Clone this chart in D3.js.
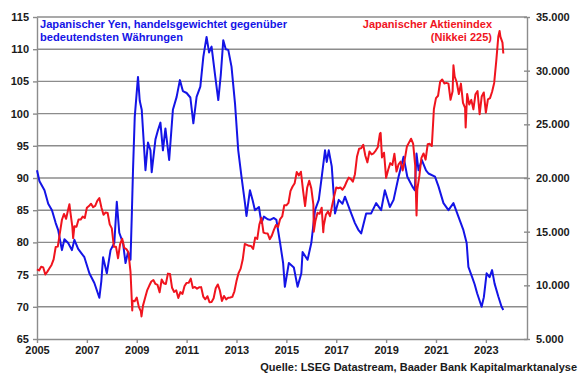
<!DOCTYPE html>
<html>
<head>
<meta charset="utf-8">
<script src="https://cdn.jsdelivr.net/npm/d3@7"></script>
<style>
  body { margin: 0; background: #fff; }
  svg { display: block; font-family: "Liberation Sans", Arial, sans-serif; }
</style>
</head>
<body>
<div id="demo"></div>
<script>

// Yen, handelsgewichtet (Datum als Dezimaljahr, Wert)
var yenDates = [2005.0, 2005.1, 2005.3, 2005.45, 2005.6, 2005.75, 2005.85, 2006.0, 2006.1, 2006.25, 2006.4, 2006.5, 2006.65, 2006.9,
  2007.1, 2007.3, 2007.5, 2007.58, 2007.65, 2007.8, 2007.95, 2008.1, 2008.2, 2008.3, 2008.45, 2008.55, 2008.65, 2008.75,
  2008.8, 2008.85, 2008.92, 2009.05, 2009.12, 2009.2, 2009.35, 2009.45, 2009.55, 2009.6, 2009.75, 2009.85, 2009.95,
  2010.05, 2010.15, 2010.3, 2010.45, 2010.6, 2010.73, 2010.85, 2011.0, 2011.15, 2011.27, 2011.4, 2011.55, 2011.67, 2011.8,
  2011.9, 2012.0, 2012.15, 2012.27, 2012.37, 2012.47, 2012.57, 2012.67, 2012.8, 2012.94, 2013.07, 2013.2, 2013.34, 2013.4,
  2013.54, 2013.65, 2013.74, 2013.9, 2014.0, 2014.1, 2014.25, 2014.35, 2014.5, 2014.6, 2014.75, 2014.87, 2014.94,
  2015.1, 2015.3, 2015.45, 2015.6, 2015.65, 2015.85, 2016.0, 2016.15, 2016.3, 2016.42, 2016.55, 2016.62, 2016.7, 2016.82,
  2016.95, 2017.1, 2017.25, 2017.35, 2017.55, 2017.75, 2017.88, 2018.0, 2018.2, 2018.4, 2018.6, 2018.8, 2018.95, 2019.15,
  2019.3, 2019.5, 2019.7, 2019.85, 2020.05, 2020.15, 2020.22, 2020.3, 2020.43, 2020.6, 2020.7, 2020.96, 2021.1, 2021.3,
  2021.5, 2021.7, 2021.9, 2022.1, 2022.23, 2022.3, 2022.45, 2022.55, 2022.65, 2022.83, 2022.92, 2023.03, 2023.15, 2023.25,
  2023.35, 2023.5, 2023.63, 2023.7];
var yenValues = [91.2, 89.5, 88.1, 86.0, 85.0, 83.0, 81.9, 78.8, 80.5, 79.9, 78.8, 80.4, 79.0, 77.7,
  75.2, 73.7, 71.4, 74.0, 77.7, 75.2, 78.8, 79.9, 86.3, 81.5, 79.9, 76.8, 78.5, 77.3,
  84.0, 91.2, 99.5, 105.7, 102.0, 100.6, 91.2, 95.5, 94.3, 90.9, 96.0, 97.4, 98.6,
  94.3, 97.7, 92.8, 100.6, 102.6, 105.2, 103.5, 103.2, 102.5, 98.5, 102.6, 104.2, 108.8, 111.9,
  109.5, 110.4, 105.7, 102.1, 106.0, 111.4, 110.0, 109.9, 107.3, 101.6, 94.3, 90.2, 86.1, 84.1,
  88.1, 86.5, 85.0, 85.5, 83.0, 84.0, 83.6, 83.5, 83.8, 83.5, 79.9, 76.8, 73.1,
  76.8, 76.1, 73.1, 75.2, 78.5, 77.3, 79.9, 85.0, 86.6, 90.2, 94.3, 92.5, 94.3, 91.8,
  84.5, 86.6, 86.0, 87.1, 85.0, 83.0, 82.0, 81.4, 84.5, 84.5, 86.1, 85.0, 88.1, 85.5,
  86.6, 90.2, 93.3, 90.2, 88.7, 88.1, 93.8, 91.2, 92.8, 91.2, 90.7, 90.2, 88.7, 86.1,
  85.0, 86.1, 84.0, 81.9, 79.9, 76.2, 74.6, 73.5, 72.1, 70.0, 71.5, 75.2, 74.6, 75.7,
  73.6, 71.6, 70.0, 69.5];

// Nikkei 225, Monatswerte ab Anfang 2005
var nikkeiStart = 2005;
var nikkeiValues = [11489,
  11388, 11740, 11668, 11008, 11276, 11584, 11899, 12413, 13574, 13606, 14872, 16111,
  16650, 16205, 17059, 16906, 15467, 15505, 15457, 16140, 16128, 16399, 16274, 17226,
  17383, 17604, 17288, 17400, 17876, 18138, 17248, 16569, 16786, 16738, 15681, 15308,
  13592, 13603, 12526, 13850, 14339, 13481, 13377, 13073, 11260, 8577, 8512, 8860,
  7994, 7568, 8110, 8828, 9523, 9958, 10357, 10493, 10133, 10035, 9346, 10546,
  10198, 10126, 11090, 11057, 9769, 9383, 9537, 8824, 9369, 9202, 9937, 10229,
  10238, 10624, 9755, 9850, 9694, 9816, 9833, 8955, 8700, 8988, 8435, 8455,
  8803, 9723, 10084, 9521, 8543, 9007, 8695, 8840, 8870, 8928, 9446, 10395,
  11139, 11559, 12398, 13861, 13775, 13677, 13668, 13389, 14456, 14328, 15662, 16291,
  14915, 14841, 14828, 14304, 14632, 15162, 15621, 15425, 16174, 16414, 17460, 17451,
  17674, 18798, 19207, 19520, 20563, 20236, 20585, 18890, 17388, 19083, 19747, 19034,
  17518, 16027, 16759, 16666, 17235, 15576, 16569, 16887, 16450, 17425, 18308, 19114,
  19041, 19119, 18909, 19197, 19651, 20033, 19925, 19646, 20356, 22012, 22725, 22765,
  23098, 22068, 21454, 22468, 22202, 22305, 22554, 22865, 24120, 21920, 22351, 20015,
  20773, 21385, 21206, 22259, 20601, 21276, 21522, 20704, 21756, 22927, 23294, 23657,
  23205, 21143, 18917, 20194, 21878, 22288, 21710, 23140, 23185, 22977, 26434, 27444,
  27663, 28966, 29179, 28813, 28860, 28792, 27284, 28090, 29453, 28893, 27822, 28792,
  27002, 26527, 27821, 26848, 27280, 26393, 27802, 28092, 25937, 27587, 27969, 26095,
  27327, 27446, 28041, 28856, 30888, 33189, 33172, 32619];
// Wochen-Extremwerte innerhalb der Monate
var nikkeiExtremeDates = [2006.3, 2006.45, 2008.82, 2009.19, 2016.1, 2016.48, 2018.78, 2020.22, 2021.7, 2022.19, 2023.55, 2023.7];
var nikkeiExtremeValues = [17560, 14400, 7650, 7100, 15000, 14950, 24200, 16500, 30500, 24700, 33700, 31600];

var yenTicks = [65, 70, 75, 80, 85, 90, 95, 100, 105, 110, 115];
var nikkeiTicks = [5000, 10000, 15000, 20000, 25000, 30000, 35000];
var yearTicks = [2005, 2007, 2009, 2011, 2013, 2015, 2017, 2019, 2021, 2023];

var yenLabel = ["Japanischer Yen, handelsgewichtet gegenüber", "bedeutendsten Währungen"];
var nikkeiLabel = ["Japanischer Aktienindex", "(Nikkei 225)"];
var sourceText = "Quelle: LSEG Datastream, Baader Bank Kapitalmarktanalyse";

createSvg();

function createSvg() {
  var W = 580, H = 375;
  var left = 37, right = 527, top = 17, bottom = 339;
  var grey = "#8c8c8c", txt = "#1a1a1a";
  var blue = "#1414e6", red = "#f0141e";

  var xScale = d3.scaleLinear().domain([2005, 2024.65]).range([left, right]);
  var yLeft = d3.scaleLinear().domain([65, 115]).range([bottom, top]);
  var yRight = d3.scaleLinear().domain([5000, 35000]).range([bottom, top]);

  var de = d3.formatLocale({decimal: ",", thousands: ".", grouping: [3], currency: ["", " €"]});

  var svg = d3.select("#demo").append("svg")
    .attr("width", W).attr("height", H);

  // Gitterlinien
  svg.append("g").selectAll("line")
    .data(yenTicks.slice(1))
    .enter().append("line")
    .attr("x1", left).attr("x2", right)
    .attr("y1", function(d) { return yLeft(d); })
    .attr("y2", function(d) { return yLeft(d); })
    .attr("stroke", grey).attr("stroke-width", 1.4);

  // Achsen
  var axL = svg.append("g").attr("transform", "translate(" + left + ",0)")
    .call(d3.axisLeft(yLeft).tickValues(yenTicks).tickSizeInner(4).tickSizeOuter(0).tickPadding(4));
  var axR = svg.append("g").attr("transform", "translate(" + right + ",0)")
    .call(d3.axisRight(yRight).tickValues(nikkeiTicks).tickSizeInner(3).tickSizeOuter(0).tickPadding(6)
      .tickFormat(de.format(",")));
  axR.selectAll(".tick line").attr("x1", -3);
  var axB = svg.append("g").attr("transform", "translate(0," + bottom + ")")
    .call(d3.axisBottom(xScale).tickValues(yearTicks).tickFormat(d3.format("d"))
      .tickSizeInner(4).tickSizeOuter(0).tickPadding(3));

  [axL, axR, axB].forEach(function(ax) {
    ax.select(".domain").attr("stroke", grey).attr("stroke-width", 1.4);
    ax.selectAll(".tick line").attr("stroke", grey).attr("stroke-width", 1.4);
    ax.selectAll("text").attr("fill", txt).attr("font-size", 11).attr("font-weight", "bold")
      .attr("font-family", "Liberation Sans, Arial, sans-serif");
  });

  // Linien
  var yenData = yenDates.map(function(d, i) { return [d, yenValues[i]]; });
  var nikkeiData = nikkeiValues.map(function(v, i) { return [nikkeiStart + i / 12, v]; })
    .concat(nikkeiExtremeDates.map(function(d, i) { return [d, nikkeiExtremeValues[i]]; }))
    .sort(function(a, b) { return a[0] - b[0]; });

  var lineYen = d3.line()
    .x(function(d) { return xScale(d[0]); })
    .y(function(d) { return yLeft(d[1]); });
  var lineNikkei = d3.line()
    .x(function(d) { return xScale(d[0]); })
    .y(function(d) { return yRight(d[1]); });

  svg.append("path").datum(yenData)
    .attr("d", lineYen).attr("fill", "none")
    .attr("stroke", blue).attr("stroke-width", 2).attr("stroke-linejoin", "round");
  svg.append("path").datum(nikkeiData)
    .attr("d", lineNikkei).attr("fill", "none")
    .attr("stroke", red).attr("stroke-width", 2).attr("stroke-linejoin", "round");

  // Beschriftungen
  svg.append("g").selectAll("text").data(yenLabel).enter().append("text")
    .attr("x", 40).attr("y", function(d, i) { return 28 + i * 13; })
    .attr("fill", blue).attr("font-size", 11).attr("font-weight", "bold")
    .attr("textLength", function(d, i) { return i === 0 ? 247 : 143; })
    .attr("lengthAdjust", "spacingAndGlyphs")
    .text(function(d) { return d; });

  svg.append("g").selectAll("text").data(nikkeiLabel).enter().append("text")
    .attr("x", 492).attr("y", function(d, i) { return 28 + i * 13; })
    .attr("text-anchor", "end")
    .attr("fill", red).attr("font-size", 11).attr("font-weight", "bold")
    .text(function(d) { return d; });

  svg.append("text")
    .attr("x", 577).attr("y", 371).attr("text-anchor", "end")
    .attr("fill", txt).attr("font-size", 11).attr("font-weight", "bold")
    .text(sourceText);
}
</script>
</body>
</html>
